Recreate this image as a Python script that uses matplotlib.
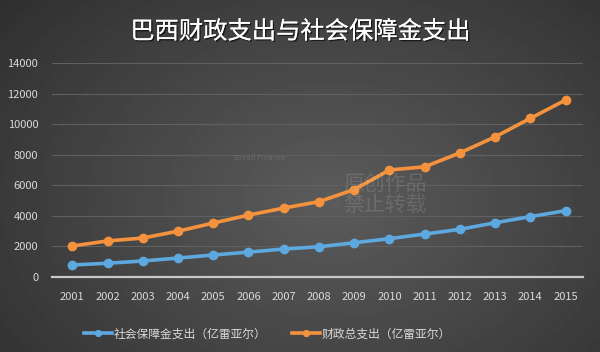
import numpy as np
import matplotlib.pyplot as plt
import matplotlib.patheffects as pe

plt.rcParams['font.family'] = ['Noto Sans CJK SC', 'DejaVu Sans']

years = [2001, 2002, 2003, 2004, 2005, 2006, 2007, 2008,
         2009, 2010, 2011, 2012, 2013, 2014, 2015]
social = [790, 900, 1050, 1240, 1440, 1630, 1830, 1980,
          2240, 2510, 2810, 3120, 3550, 3950, 4340]
fiscal = [2030, 2360, 2550, 3000, 3530, 4050, 4510, 4930,
          5720, 7000, 7210, 8120, 9170, 10380, 11580]
yticks = [0, 2000, 4000, 6000, 8000, 10000, 12000, 14000]
title = '巴西财政支出与社会保障金支出'
labels = ['社会保障金支出（亿雷亚尔）', '财政总支出（亿雷亚尔）']

fig = plt.figure(figsize=(6, 3.52), dpi=100)

# radial grey background
bg = fig.add_axes([0, 0, 1, 1], zorder=-10)
yy, xx = np.mgrid[0:352, 0:600]
r = np.sqrt(((xx - 330) / 420.0) ** 2 + ((yy - 200) / 300.0) ** 2)
shade = np.clip(0.36 - 0.17 * r, 0.18, 0.36)
bg.imshow(shade, cmap='gray', vmin=0, vmax=1, aspect='auto', extent=[0, 1, 0, 1])
bg.axis('off')

ax = fig.add_axes([0.087, 0.213, 0.885, 0.608])
ax.patch.set_alpha(0)

ax.plot(years, social, color='#5ea8e0', lw=2.6, marker='o', ms=6, label=labels[0], zorder=3)
ax.plot(years, fiscal, color='#f5923e', lw=2.6, marker='o', ms=6, label=labels[1], zorder=3)

ax.set_ylim(0, 14000)
ax.set_xlim(2000.43, 2015.5)
ax.set_yticks(yticks)
ax.set_xticks(years)
ax.grid(axis='y', color='#606060', lw=0.8)
ax.set_axisbelow(True)
for s in ['top', 'right', 'left']:
    ax.spines[s].set_visible(False)
ax.spines['bottom'].set_color('#c8c8c8')
ax.spines['bottom'].set_linewidth(1.6)
ax.tick_params(length=0, colors='#d9d9d9', labelsize=8)
ax.tick_params(axis='x', pad=11)
ax.tick_params(axis='y', pad=10)

# faint watermark
fig.text(0.572, 0.447, '原创作品\n禁止转载', color='#ffffff', alpha=0.13,
         fontsize=15, linespacing=0.95, va='center')
fig.text(0.39, 0.545, 'Bread Finance', color='#ffffff', alpha=0.13, fontsize=5.5)

fig.text(0.5, 0.91, title, color='white', fontsize=17.5, ha='center', va='center',
         path_effects=[pe.withSimplePatchShadow(offset=(1, -1), shadow_rgbFace='black', alpha=0.6), pe.Normal()])

leg = ax.legend(loc='center', bbox_to_anchor=(0.405, -0.265), ncol=2, frameon=False,
                fontsize=8.5, labelcolor='#d9d9d9', handlelength=2.4, handletextpad=0.1,
                columnspacing=2.2, markerscale=0.7)

fig.savefig('out.png', dpi=100)
